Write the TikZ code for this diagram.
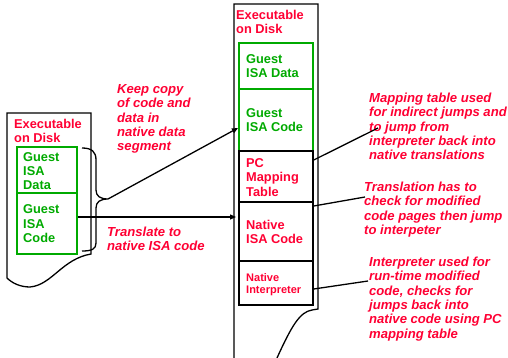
\documentclass[tikz,border=0pt]{standalone}
\usepackage{fontspec}
\setmainfont{Liberation Sans}
\usetikzlibrary{arrows.meta}
\definecolor{myred}{RGB}{255,0,51}
\definecolor{mygreen}{RGB}{0,170,0}
\begin{document}
\begin{tikzpicture}[x=1pt,y=1pt,
  doc/.style={draw=black,line width=1.3pt,line join=miter},
  boxg/.style={draw=mygreen,line width=1.5pt,rectangle,inner sep=0pt},
  boxk/.style={draw=black,line width=1.5pt,rectangle,inner sep=0pt},
  lbl/.style={anchor=base west,inner sep=0pt,align=left,font=\fontsize{12.8}{14.3}\selectfont\bfseries},
  gtxt/.style={lbl,text=mygreen},
  rtxt/.style={lbl,text=myred},
  note/.style={lbl,text=myred,font=\fontsize{13.1}{14.3}\selectfont\bfseries\itshape},
  conn/.style={line width=1.3pt},
  arr/.style={conn,-{Triangle[length=6pt,width=5pt]}}
]
\useasboundingbox (0,0) rectangle (508,-358);

% left document outline
\draw[doc] (7,-113) -- (91,-113) -- (91,-254)
  .. controls (62,-259) and (52,-285) .. (30,-287)
  .. controls (20,-287) and (12,-283) .. (7,-278) -- cycle;
% right document outline
\draw[doc] (234,-358) -- (234,-4) -- (318,-4) -- (318,-309) -- (312,-310)
  .. controls (300,-312) and (292,-325) .. (277,-358);

% left boxes
\node[boxg,minimum width=60pt,minimum height=46pt] (gdata1) at (47,-170) {};
\node[boxg,minimum width=60pt,minimum height=61pt] (gcode1) at (47,-223.5) {};
% right boxes
\node[boxg,minimum width=74pt,minimum height=46pt] (gdata2) at (276,-66) {};
\node[boxg,minimum width=74pt,minimum height=62pt] (gcode2) at (276,-120) {};
\node[boxk,minimum width=74pt,minimum height=51pt] (pcmap) at (276,-176.5) {};
\node[boxk,minimum width=74pt,minimum height=59pt] (ncode) at (276,-231.5) {};
\node[boxk,minimum width=74pt,minimum height=44pt] (interp) at (276,-283) {};

% texts (anchor = baseline of the last line)
\node[rtxt,font=\fontsize{12.8}{13.7}\selectfont\bfseries] (exe1) at (14,-142.2) {Executable\\on Disk};
\node[rtxt,font=\fontsize{12.8}{13.7}\selectfont\bfseries] (exe2) at (236,-33.7) {Executable\\on Disk};
\node[gtxt,font=\fontsize{12.8}{14}\selectfont\bfseries] (t-gdata1) at (23,-189.5) {Guest\\ISA\\Data};
\node[gtxt,font=\fontsize{12.8}{14.5}\selectfont\bfseries] (t-gcode1) at (23,-242.5) {Guest\\ISA\\Code};
\node[gtxt,font=\fontsize{12.8}{14}\selectfont\bfseries] (t-gdata2) at (246,-77.5) {Guest\\ISA Data};
\node[gtxt,font=\fontsize{12.8}{14}\selectfont\bfseries] (t-gcode2) at (246,-131.5) {Guest\\ISA Code};
\node[rtxt,font=\fontsize{12.8}{14.5}\selectfont\bfseries] (t-pcmap) at (246,-196.5) {PC\\Mapping\\Table};
\node[rtxt,font=\fontsize{12.8}{14}\selectfont\bfseries] (t-ncode) at (246,-243.5) {Native\\ISA Code};
\node[rtxt,font=\fontsize{11}{12}\selectfont\bfseries] (t-interp) at (246,-293) {Native\\Interpreter};

\node[note] (keep) at (117,-150.7) {Keep copy\\of code and\\data in\\native data\\segment};
\node[note,font=\fontsize{13.1}{14}\selectfont\bfseries\itshape] (transl) at (107,-250.5) {Translate to\\native ISA code};
\node[note] (n-map) at (369,-159.7) {Mapping table used\\for indirect jumps and\\to jump from\\interpreter back into\\native translations};
\node[note] (n-check) at (364,-234.4) {Translation has to\\check for modified\\code pages then jump\\to interpeter};
\node[note] (n-interp) at (369,-338) {Interpreter used for\\run-time modified\\code, checks for\\jumps back into\\native code using PC\\mapping table};

% brace
\coordinate (btip) at (108,-199);
\draw[conn] (82,-148) .. controls (92,-148) and (96,-152) .. (96,-160) -- (96,-190)
  .. controls (96,-196) and (100,-199) .. (btip)
  .. controls (100,-199) and (96,-202) .. (96,-208) -- (96,-243)
  .. controls (96,-249) and (92,-251) .. (82,-251);

% arrows
\coordinate (a1end) at (238,-128);
\draw[arr] (btip) -- (a1end);
\coordinate (a2end) at (236,-217);
\draw[arr] (gcode1.east |- a2end) -- (a2end);

% annotation lines
\coordinate (m1) at (378,-128);
\coordinate (m2) at (365,-197);
\coordinate (m3) at (368,-281);
\draw[conn] (pcmap.east |- 0,-160) -- (m1);
\draw[conn] (ncode.east |- 0,-206) -- (m2);
\draw[conn] (interp.east |- 0,-289) -- (m3);
\end{tikzpicture}
\end{document}
